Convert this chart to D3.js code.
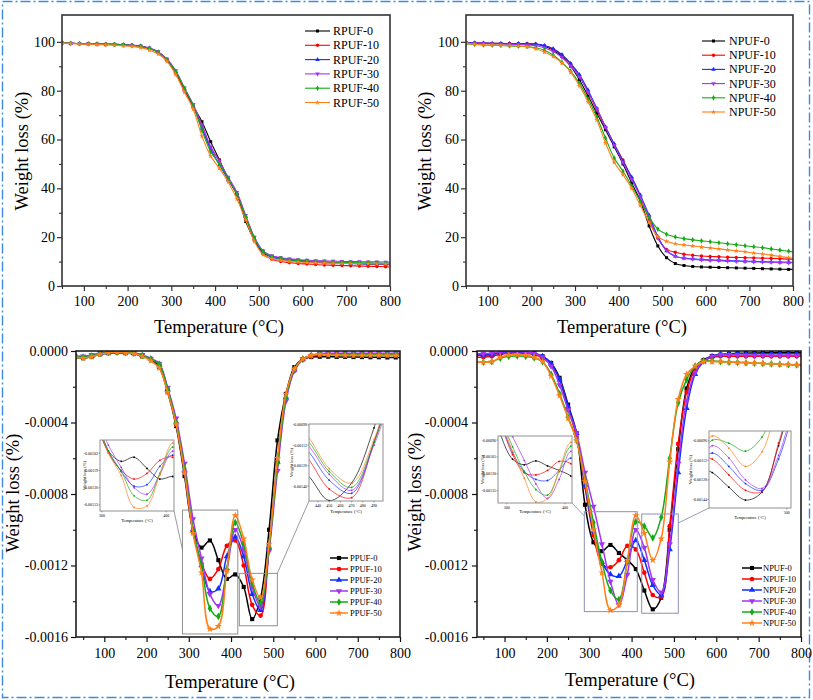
<!DOCTYPE html>
<html><head><meta charset="utf-8">
<script src="https://cdn.jsdelivr.net/npm/d3@7"></script>
<style>body{margin:0;background:#fff}svg{display:block}text{font-family:"Liberation Serif","Times New Roman",serif;fill:#000}</style>
</head><body><svg id="c" width="813" height="700"></svg>
<script>
// ---------- DATA ----------
const tgaTemps = [50,70,90,110,130,150,170,190,210,230,250,270,290,310,330,350,370,390,410,430,450,470,490,510,530,550,570,590,610,630,650,670,690,710,730,750,770,790,800];
const dtgTemps = [30,50,70,90,110,130,150,170,190,210,230,250,270,290,310,330,350,370,390,410,430,450,470,490,510,530,550,570,590,610,630,650,670,690,710,730,750,770,790,800];

const rpufNames = ["RPUF-0","RPUF-10","RPUF-20","RPUF-30","RPUF-40","RPUF-50"];
const npufNames = ["NPUF-0","NPUF-10","NPUF-20","NPUF-30","NPUF-40","NPUF-50"];
const ppufNames = ["PPUF-0","PPUF-10","PPUF-20","PPUF-30","PPUF-40","PPUF-50"];

// TGA weight (%)
const rpuf0  = [99.6,99.4,99.3,99.2,99.1,99.0,99.0,98.8,98.6, 98.2,97.4,95.8,92.7,87.6,80.6,73.6,67.3,59.1,51.6,43.8,37.6,26.4,18.9,13.8, 12.2,11.4,10.9,10.5,10.2,10.0,9.8,9.6,9.4,9.3,9.2,9.0,8.9,8.8,8.7];
const rpuf10 = [99.6,99.4,99.3,99.2,99.1,99.0,98.9,98.7,98.5, 98.0,97.2,95.6,92.4,87.2,80.2,73.4,66.0,56.6,51.3,43.8,37.4,28.2,18.8,13.0, 11.0,10.0,9.5,9.2,9.0,8.8,8.6,8.5,8.4,8.3,8.2,8.1,8.0,7.9,7.8];
const rpuf20 = [99.6,99.4,99.3,99.2,99.1,99.0,99.0,98.8,98.6, 98.2,97.4,95.8,92.7,87.8,80.8,73.8,64.5,56.0,49.6,43.6,37.8,28.5,19.3,13.6, 11.8,11.0,10.5,10.2,9.9,9.7,9.5,9.4,9.3,9.2,9.1,9.0,8.9,8.8,8.8];
const rpuf30 = [99.6,99.4,99.3,99.2,99.1,99.0,99.0,98.8,98.6, 98.3,97.5,96.0,93.0,88.2,81.2,74.4,66.0,57.1,51.0,44.6,38.4,29.0,20.0,14.4, 12.4,11.6,11.1,10.8,10.6,10.4,10.3,10.2,10.1,10.0,10.0,9.9,9.9,9.8,9.8];
const rpuf40 = [99.6,99.4,99.3,99.2,99.1,99.0,98.9,98.7,98.5, 98.1,97.3,95.7,92.8,87.9,81.0,74.0,63.8,55.0,50.0,43.9,37.5,28.4,19.6,14.2, 12.0,11.2,10.7,10.4,10.2,10.0,9.9,9.8,9.7,9.6,9.5,9.5,9.4,9.3,9.3];
const rpuf50 = [99.5,99.3,99.1,99.0,98.9,98.8,98.6,98.4,98.1, 97.6,96.6,95.0,92.0,86.6,79.4,72.4,61.4,53.2,48.2,42.6,35.6,27.0,18.2,12.8, 11.2,10.5,10.1,9.8,9.6,9.5,9.4,9.3,9.2,9.2,9.1,9.1,9.0,9.0,9.0];

const npuf0  = [99.6,99.5,99.4,99.3,99.3,99.2,99.2,99.1,99.0, 98.2,96.6,94.0,90.0,84.5,77.8,70.8,64.0,57.0,50.0,42.2,34.8,24.6,16.4,11.6, 9.2,8.4,8.0,7.8,7.7,7.6,7.5,7.4,7.3,7.2,7.1,7.0,6.9,6.8,6.8];
const npuf10 = [99.8,99.6,99.5,99.4,99.4,99.3,99.3,99.2,99.0, 98.4,97.0,94.6,91.0,86.0,79.4,72.0,65.0,58.0,51.6,44.2,36.4,27.2,19.6,15.0, 13.8,13.0,12.6,12.3,12.1,12.0,11.8,11.7,11.6,11.5,11.4,11.3,11.2,11.0,11.0];
const npuf20 = [99.7,99.6,99.5,99.4,99.4,99.3,99.3,99.2,99.1, 98.5,97.2,94.8,91.2,86.6,80.2,72.8,65.2,58.2,51.2,44.6,37.2,29.0,20.2,14.4, 12.2,11.4,11.1,10.9,10.7,10.6,10.4,10.3,10.2,10.1,10.0,9.9,9.8,9.7,9.7];
const npuf30 = [99.5,99.4,99.3,99.2,99.1,99.0,98.9,98.7,98.4, 97.6,96.0,93.6,90.2,85.6,79.4,72.6,65.0,57.6,50.6,43.6,36.6,28.2,19.6,14.6, 12.2,11.4,11.0,10.7,10.5,10.4,10.2,10.1,10.0,9.9,9.8,9.7,9.6,9.5,9.5];
const npuf40 = [99.2,98.9,98.7,98.6,98.5,98.3,98.2,98.0,97.6, 96.6,94.6,91.6,88.0,83.0,76.6,69.2,60.6,52.4,47.0,41.0,34.6,28.2,23.3,21.2, 20.1,19.4,18.9,18.5,18.1,17.7,17.3,16.9,16.5,16.1,15.7,15.2,14.7,14.2,14.0];
const npuf50 = [99.5,99.0,98.8,98.7,98.6,98.5,98.3,98.0,97.2, 95.8,94.0,91.4,87.6,82.0,75.4,68.0,58.6,50.6,45.6,40.0,33.0,26.0,20.2,18.3, 17.3,16.8,16.4,16.0,15.6,15.2,14.8,14.4,14.0,13.5,13.1,12.6,12.1,11.6,11.4];

// DTG values in units of 1e-4 (%/°C)
const DTG_UNIT = 1e-4;
const ppufD0  = [-0.35,-0.40,-0.32,-0.18,-0.12,-0.10,-0.12,-0.16,-0.30,-0.45, -0.90,-2.30,-4.20,-7.00,-10.0,-11.0,-10.6,-11.7,-12.75,-12.5, -13.2,-15.0,-13.8,-10.0,-5.0,-2.4,-0.9,-0.45,-0.34,-0.32, -0.32,-0.33,-0.33,-0.34,-0.34,-0.35,-0.35,-0.36,-0.36,-0.36];
const ppufD10 = [-0.30,-0.35,-0.28,-0.15,-0.08,-0.06,-0.08,-0.12,-0.25,-0.45, -0.75,-2.15,-4.00,-6.80,-10.15,-11.9,-12.75,-12.2,-10.9,-10.6, -12.0,-14.2,-14.8,-11.0,-6.2,-2.6,-1.1,-0.5,-0.3,-0.22, -0.2,-0.2,-0.2,-0.2,-0.2,-0.2,-0.2,-0.2,-0.2,-0.2];
const ppufD20 = [-0.30,-0.35,-0.28,-0.15,-0.08,-0.06,-0.08,-0.12,-0.25,-0.45, -0.75,-2.15,-4.00,-6.70,-10.0,-12.0,-13.45,-13.3,-11.5,-10.4, -11.5,-13.6,-14.5,-11.0,-6.2,-2.6,-1.05,-0.45,-0.25,-0.18, -0.16,-0.15,-0.15,-0.15,-0.15,-0.15,-0.15,-0.15,-0.15,-0.15];
const ppufD30 = [-0.25,-0.30,-0.22,-0.10,-0.05,-0.04,-0.05,-0.10,-0.22,-0.42, -0.70,-2.05,-3.77,-6.30,-9.4,-11.6,-13.6,-14.25,-12.3,-10.0, -11.1,-13.2,-14.3,-11.2,-6.7,-2.8,-1.1,-0.45,-0.25,-0.15, -0.13,-0.12,-0.12,-0.12,-0.12,-0.12,-0.12,-0.12,-0.12,-0.12];
const ppufD40 = [-0.30,-0.35,-0.28,-0.15,-0.08,-0.06,-0.08,-0.12,-0.25,-0.45, -0.75,-2.15,-4.00,-6.60,-10.0,-12.0,-14.4,-14.85,-12.2,-9.6, -10.8,-13.0,-14.1,-11.0,-6.3,-2.6,-1.0,-0.45,-0.25,-0.18, -0.18,-0.2,-0.2,-0.2,-0.2,-0.2,-0.2,-0.2,-0.2,-0.2];
const ppufD50 = [-0.35,-0.40,-0.32,-0.18,-0.10,-0.08,-0.10,-0.15,-0.30,-0.55, -0.95,-2.30,-4.10,-6.80,-10.2,-12.4,-15.55,-15.4,-12.3,-9.2, -10.5,-12.8,-13.8,-10.8,-6.0,-2.4,-1.0,-0.45,-0.25,-0.2, -0.22,-0.24,-0.25,-0.25,-0.25,-0.25,-0.25,-0.25,-0.25,-0.25];

const npufD0  = [-0.22,-0.22,-0.20,-0.10,-0.05,-0.05,-0.07,-0.12,-0.30,-0.67, -1.5,-3.0,-4.6,-8.6,-10.7,-11.2,-10.85,-11.3,-11.7,-12.2, -13.4,-14.45,-13.8,-10.0,-5.5,-2.1,-0.9,-0.5,-0.28,-0.2, -0.16,-0.13,-0.12,-0.11,-0.1,-0.1,-0.1,-0.1,-0.1,-0.1];
const npufD10 = [-0.35,-0.35,-0.30,-0.18,-0.12,-0.12,-0.14,-0.20,-0.40,-0.80, -1.6,-3.2,-4.8,-7.6,-10.3,-11.9,-12.1,-11.7,-10.9,-11.1, -12.4,-13.65,-13.75,-9.8,-5.2,-2.3,-1.0,-0.55,-0.35,-0.3, -0.3,-0.3,-0.3,-0.3,-0.3,-0.3,-0.3,-0.3,-0.3,-0.3];
const npufD20 = [-0.22,-0.22,-0.20,-0.10,-0.05,-0.05,-0.07,-0.12,-0.30,-0.70, -1.6,-3.1,-4.6,-7.5,-10.1,-11.8,-12.5,-12.6,-11.7,-10.6, -11.7,-13.1,-13.65,-11.1,-6.8,-3.2,-1.3,-0.6,-0.3,-0.2, -0.17,-0.15,-0.15,-0.15,-0.15,-0.15,-0.15,-0.15,-0.15,-0.15];
const npufD30 = [-0.15,-0.15,-0.12,-0.06,-0.03,-0.03,-0.06,-0.13,-0.35,-0.85, -1.9,-3.3,-4.6,-6.8,-8.7,-10.8,-12.9,-14.2,-12.5,-10.0, -11.0,-12.8,-13.5,-10.8,-6.3,-2.8,-1.2,-0.55,-0.3,-0.22, -0.22,-0.23,-0.24,-0.25,-0.25,-0.25,-0.25,-0.25,-0.25,-0.25];
const npufD40 = [-0.63,-0.63,-0.60,-0.40,-0.30,-0.28,-0.30,-0.38,-0.60,-1.30, -2.4,-3.7,-5.0,-7.2,-9.6,-11.8,-13.4,-13.9,-11.8,-9.55, -9.8,-10.45,-9.3,-6.0,-2.9,-1.6,-0.84,-0.55,-0.55,-0.6, -0.62,-0.64,-0.66,-0.68,-0.7,-0.72,-0.74,-0.76,-0.78,-0.78];
const npufD50 = [-0.63,-0.63,-0.60,-0.35,-0.22,-0.20,-0.22,-0.35,-0.60,-1.40, -2.5,-3.75,-5.0,-7.3,-10.0,-12.4,-14.5,-14.2,-11.7,-9.2, -10.2,-11.7,-10.5,-6.2,-2.7,-1.3,-0.84,-0.6,-0.6,-0.6, -0.62,-0.64,-0.66,-0.68,-0.7,-0.72,-0.74,-0.76,-0.78,-0.78];

// tick labels
const tempTicks = [100,200,300,400,500,600,700,800];
const tgaYTicks = [0,20,40,60,80,100];
const dtgYTicks = [0,-0.0004,-0.0008,-0.0012,-0.0016];

// zoomed regions [T0, T1, vTop, vBottom] in data units (1e-4)
const ppufZoomA = [285, 416, -8.9, -15.83];
const ppufZoomB = [419.6, 509.6, -12.44, -15.37];
const npufZoomA = [288.4, 413.5, -8.99, -14.58];
const npufZoomB = [423.9, 510.3, -9.12, -14.67];

// inset axes
const insetP_A = {xDomain:[297,412], yDomain:[-0.00159,-0.00089], xTicks:[300,400], yTicks:[-0.00102,-0.00119,-0.00136,-0.00153]};
const insetP_B = {xDomain:[432,498], yDomain:[-0.001503,-0.000974], xTicks:[440,450,460,470,480,490], yTicks:[-0.00098,-0.00112,-0.00126,-0.00140]};
const insetN_A = {xDomain:[285,412], yDomain:[-0.00146,-0.000864], xTicks:[300,400], yTicks:[-0.00090,-0.00105,-0.00120,-0.00135]};
const insetN_B = {xDomain:[406,505], yDomain:[-0.00151,-0.00088], xTicks:[500], yTicks:[-0.00096,-0.00112,-0.00128,-0.00144]};

// ---------- STYLE ----------
const colors = ["#000000","#ff0000","#1030ff","#a334f5","#14aa14","#ff8018"];
const FONT = '"Liberation Serif","Times New Roman",serif';

const svg = d3.select('#c');
const defs = svg.append('defs');

svg.append('rect').attr('x',2.5).attr('y',1.5).attr('width',807).attr('height',696)
  .attr('fill','none').attr('stroke','#3d8ae2').attr('stroke-width',1.4)
  .attr('stroke-dasharray','10,3,2,3');

function drawMarker(g, i, cx, cy, size, color){
  const types = [d3.symbolSquare, d3.symbolCircle, d3.symbolTriangle, d3.symbolTriangle, d3.symbolDiamond, d3.symbolStar];
  const p = g.append('path').attr('d', d3.symbol().type(types[i]).size(size)())
    .attr('fill', color).attr('stroke', 'none');
  p.attr('transform', `translate(${cx},${cy})` + (i===3 ? ' rotate(180)' : ''));
}

function drawPanel(p){
  const g = svg.append('g');
  const x = d3.scaleLinear().domain(p.xDomain).range([p.left, p.right]);
  const y = d3.scaleLinear().domain(p.yDomain).range([p.bottom, p.top]);
  const cid = 'clip' + p.id;
  defs.append('clipPath').attr('id', cid).append('rect')
    .attr('x', p.left).attr('y', p.top).attr('width', p.right - p.left).attr('height', p.bottom - p.top);

  const xa = g.append('g').attr('transform', `translate(0,${p.bottom})`)
    .call(d3.axisBottom(x).tickValues(tempTicks).tickSize(5).tickPadding(p.xPad).tickFormat(d3.format('d')));
  xa.select('.domain').remove();
  xa.selectAll('text').attr('font-size', 14).attr('font-family', FONT);
  xa.selectAll('line').attr('stroke', p.axisColor).attr('stroke-width', 1.2);
  g.append('g').attr('transform', `translate(0,${p.bottom})`)
    .call(d3.axisBottom(x).tickValues(p.xMinor).tickSize(3).tickFormat(''))
    .call(s => { s.select('.domain').remove(); s.selectAll('line').attr('stroke', p.axisColor).attr('stroke-width', 1.1); });

  const ya = g.append('g').attr('transform', `translate(${p.left},0)`)
    .call(d3.axisLeft(y).tickValues(p.yTicks).tickSize(5).tickPadding(p.yPad).tickFormat(p.yFormat));
  ya.select('.domain').remove();
  ya.selectAll('text').attr('font-size', 14).attr('font-family', FONT);
  ya.selectAll('line').attr('stroke', p.axisColor).attr('stroke-width', 1.2);
  g.append('g').attr('transform', `translate(${p.left},0)`)
    .call(d3.axisLeft(y).tickValues(p.yMinor).tickSize(3).tickFormat(''))
    .call(s => { s.select('.domain').remove(); s.selectAll('line').attr('stroke', p.axisColor).attr('stroke-width', 1.1); });

  const cg = g.append('g').attr('clip-path', `url(#${cid})`);
  p.series.forEach((vals, i) => {
    const pts = p.temps.map((t, j) => [t, vals[j] * p.unit]);
    const line = d3.line().x(d => x(d[0])).y(d => y(d[1])).curve(d3.curveCatmullRom.alpha(0.5));
    cg.append('path').attr('d', line(pts)).attr('fill', 'none')
      .attr('stroke', colors[i]).attr('stroke-width', p.lineW);
    pts.forEach(d => { if (d[0] <= 790) drawMarker(cg, i, x(d[0]), y(d[1]), p.markSize, colors[i]); });
  });

  g.append('rect').attr('x', p.left).attr('y', p.top).attr('width', p.right - p.left).attr('height', p.bottom - p.top)
    .attr('fill', 'none').attr('stroke', p.axisColor).attr('stroke-width', p.frameW);

  g.append('text').attr('x', p.xTitle[0]).attr('y', p.xTitle[1]).attr('text-anchor', 'middle')
    .attr('font-size', 18.5).attr('font-family', FONT).text('Temperature (°C)');
  g.append('text').attr('transform', `translate(${p.yTitle[0]},${p.yTitle[1]}) rotate(-90)`)
    .attr('text-anchor', 'middle').attr('dominant-baseline', 'central')
    .attr('font-size', 18.5).attr('font-family', FONT).text('Weight loss (%)');

  const L = p.legend;
  p.names.forEach((n, i) => {
    const yy = L.y + L.dy * i;
    g.append('line').attr('x1', L.x1).attr('x2', L.x2).attr('y1', yy).attr('y2', yy)
      .attr('stroke', colors[i]).attr('stroke-width', p.lineW);
    drawMarker(g, i, (L.x1 + L.x2) / 2, yy, p.markSize, colors[i]);
    g.append('text').attr('x', L.tx).attr('y', yy).attr('dominant-baseline', 'central')
      .attr('font-size', L.fs).attr('font-family', FONT).text(n);
  });
  return {x, y, g};
}

function drawInset(P, p, box, cfg, series){
  const g = svg.append('g');
  const x = d3.scaleLinear().domain(cfg.xDomain).range([box.x0, box.x1]);
  const y = d3.scaleLinear().domain(cfg.yDomain).range([box.y1, box.y0]);
  g.append('rect').attr('x', box.x0).attr('y', box.y0).attr('width', box.x1 - box.x0).attr('height', box.y1 - box.y0)
    .attr('fill', '#fff');
  const cid = 'iclip' + box.id;
  defs.append('clipPath').attr('id', cid).append('rect')
    .attr('x', box.x0).attr('y', box.y0).attr('width', box.x1 - box.x0).attr('height', box.y1 - box.y0);
  const cg = g.append('g').attr('clip-path', `url(#${cid})`);
  series.forEach((vals, i) => {
    const pts = p.temps.map((t, j) => [t, vals[j] * p.unit]);
    const line = d3.line().x(d => x(d[0])).y(d => y(d[1])).curve(d3.curveCatmullRom.alpha(0.5));
    cg.append('path').attr('d', line(pts)).attr('fill', 'none').attr('stroke', colors[i]).attr('stroke-width', 0.8).attr('opacity', 0.85);
    pts.forEach(d => cg.append('circle').attr('cx', x(d[0])).attr('cy', y(d[1])).attr('r', 0.9).attr('fill', colors[i]));
  });
  g.append('rect').attr('x', box.x0).attr('y', box.y0).attr('width', box.x1 - box.x0).attr('height', box.y1 - box.y0)
    .attr('fill', 'none').attr('stroke', box.stroke).attr('stroke-width', 1);
  cfg.xTicks.forEach(t => {
    g.append('line').attr('x1', x(t)).attr('x2', x(t)).attr('y1', box.y1).attr('y2', box.y1 + 1.5).attr('stroke', '#555').attr('stroke-width', 0.5);
    g.append('text').attr('x', x(t)).attr('y', box.y1 + 5.5).attr('text-anchor', 'middle').attr('font-size', 4).attr('font-family', FONT).attr('fill', '#333').text(t);
  });
  cfg.yTicks.forEach(t => {
    g.append('line').attr('x1', box.x0 - 1.5).attr('x2', box.x0).attr('y1', y(t)).attr('y2', y(t)).attr('stroke', '#555').attr('stroke-width', 0.5);
    g.append('text').attr('x', box.x0 - 2).attr('y', y(t)).attr('text-anchor', 'end').attr('dominant-baseline', 'central')
      .attr('font-size', 4).attr('font-family', FONT).attr('fill', '#333').text(t.toFixed(5));
  });
  g.append('text').attr('x', (box.x0 + box.x1) / 2).attr('y', box.y1 + box.xt).attr('text-anchor', 'middle')
    .attr('font-size', 4.5).attr('font-family', FONT).attr('fill', '#333').text('Temperature (°C)');
  g.append('text').attr('transform', `translate(${box.yt},${(box.y0 + box.y1) / 2}) rotate(-90)`)
    .attr('text-anchor', 'middle').attr('dominant-baseline', 'central')
    .attr('font-size', 4.5).attr('font-family', FONT).attr('fill', '#333').text('Weight loss (%)');
}

function drawZoomRect(P, p, r, stroke){
  const xx = P.x, yy = P.y;
  P.g.append('rect').attr('x', xx(r[0])).attr('y', yy(r[2] * p.unit))
    .attr('width', xx(r[1]) - xx(r[0])).attr('height', yy(r[3] * p.unit) - yy(r[2] * p.unit))
    .attr('fill', 'none').attr('stroke', stroke).attr('stroke-width', 1);
}
function connector(P, p, from, toData, stroke){
  P.g.append('line').attr('x1', from[0]).attr('y1', from[1])
    .attr('x2', P.x(toData[0])).attr('y2', P.y(toData[1] * p.unit))
    .attr('stroke', stroke).attr('stroke-width', 0.9);
}

// ---------- PANELS ----------
const tgaFmt = d3.format('d');
const dtgFmt = v => v.toFixed(4);

const p1 = {id:1, left:62, right:390, top:15, bottom:286, xDomain:[50,800], yDomain:[0,111],
  xMinor:[50,150,250,350,450,550,650,750], yTicks:tgaYTicks, yMinor:[10,30,50,70,90],
  yFormat:tgaFmt, xPad:5, yPad:2, temps:tgaTemps, unit:1, series:[rpuf0,rpuf10,rpuf20,rpuf30,rpuf40,rpuf50],
  names:rpufNames, lineW:1.1, markSize:9, frameW:1.6, axisColor:'#333',
  xTitle:[219,333], yTitle:[22,151], legend:{x1:305,x2:330,tx:333,y:31,dy:14.3,fs:12}};
const p2 = {id:2, left:466, right:793, top:15, bottom:286, xDomain:[50,800], yDomain:[0,111],
  xMinor:[50,150,250,350,450,550,650,750], yTicks:tgaYTicks, yMinor:[10,30,50,70,90],
  yFormat:tgaFmt, xPad:5, yPad:2, temps:tgaTemps, unit:1, series:[npuf0,npuf10,npuf20,npuf30,npuf40,npuf50],
  names:npufNames, lineW:1.1, markSize:9, frameW:1.6, axisColor:'#333',
  xTitle:[622,333], yTitle:[425,151], legend:{x1:702,x2:725,tx:729,y:41,dy:14.2,fs:12}};
const p3 = {id:3, left:76, right:400, top:351, bottom:637, xDomain:[33,800], yDomain:[-0.0016,0],
  xMinor:[50,150,250,350,450,550,650,750], yTicks:dtgYTicks, yMinor:[-0.0002,-0.0006,-0.0010,-0.0014],
  yFormat:dtgFmt, xPad:6, yPad:3, temps:dtgTemps, unit:DTG_UNIT, series:[ppufD0,ppufD10,ppufD20,ppufD30,ppufD40,ppufD50],
  names:ppufNames, lineW:1.5, markSize:17, frameW:1.5, axisColor:'#111',
  xTitle:[230,688], yTitle:[13,493], legend:{x1:330,x2:348,tx:350,y:558,dy:11,fs:8.5}};
const p4 = {id:4, left:477, right:801, top:351, bottom:637, xDomain:[35,800], yDomain:[-0.0016,0],
  xMinor:[50,150,250,350,450,550,650,750], yTicks:dtgYTicks, yMinor:[-0.0002,-0.0006,-0.0010,-0.0014],
  yFormat:dtgFmt, xPad:6, yPad:4, temps:dtgTemps, unit:DTG_UNIT, series:[npufD0,npufD10,npufD20,npufD30,npufD40,npufD50],
  names:npufNames, lineW:1.5, markSize:17, frameW:1.5, axisColor:'#111',
  xTitle:[630,686], yTitle:[415,492], legend:{x1:742,x2:762,tx:763,y:568,dy:11,fs:8.5}};

drawPanel(p1);
drawPanel(p2);
const P3 = drawPanel(p3);
const P4 = drawPanel(p4);

const gray = '#8f8f8f', blueGray = '#8b90b8';
drawZoomRect(P3, p3, ppufZoomA, gray);
drawZoomRect(P3, p3, ppufZoomB, gray);
drawZoomRect(P4, p4, npufZoomA, blueGray);
drawZoomRect(P4, p4, npufZoomB, blueGray);

const boxP_A = {id:'pa', x0:100, x1:174, y0:440, y1:511, stroke:gray, xt:11, yt:84};
const boxP_B = {id:'pb', x0:309, x1:383, y0:424, y1:501, stroke:gray, xt:11.5, yt:291};
const boxN_A = {id:'na', x0:498, x1:572, y0:436, y1:503, stroke:gray, xt:10, yt:482};
const boxN_B = {id:'nb', x0:709, x1:791, y0:431, y1:508, stroke:gray, xt:11, yt:690};

connector(P3, p3, [boxP_A.x1, boxP_A.y1], [ppufZoomA[0], -11.1], gray);
connector(P3, p3, [boxP_B.x0, boxP_B.y1], [ppufZoomB[1], ppufZoomB[2]], gray);
connector(P4, p4, [boxN_A.x1, boxN_A.y1], [npufZoomA[0], -9.23], blueGray);
connector(P4, p4, [boxN_B.x0, boxN_B.y1], [npufZoomB[1], -9.62], blueGray);

drawInset(P3, p3, boxP_A, insetP_A, p3.series);
drawInset(P3, p3, boxP_B, insetP_B, p3.series);
drawInset(P4, p4, boxN_A, insetN_A, p4.series);
drawInset(P4, p4, boxN_B, insetN_B, p4.series);
</script></body></html>
